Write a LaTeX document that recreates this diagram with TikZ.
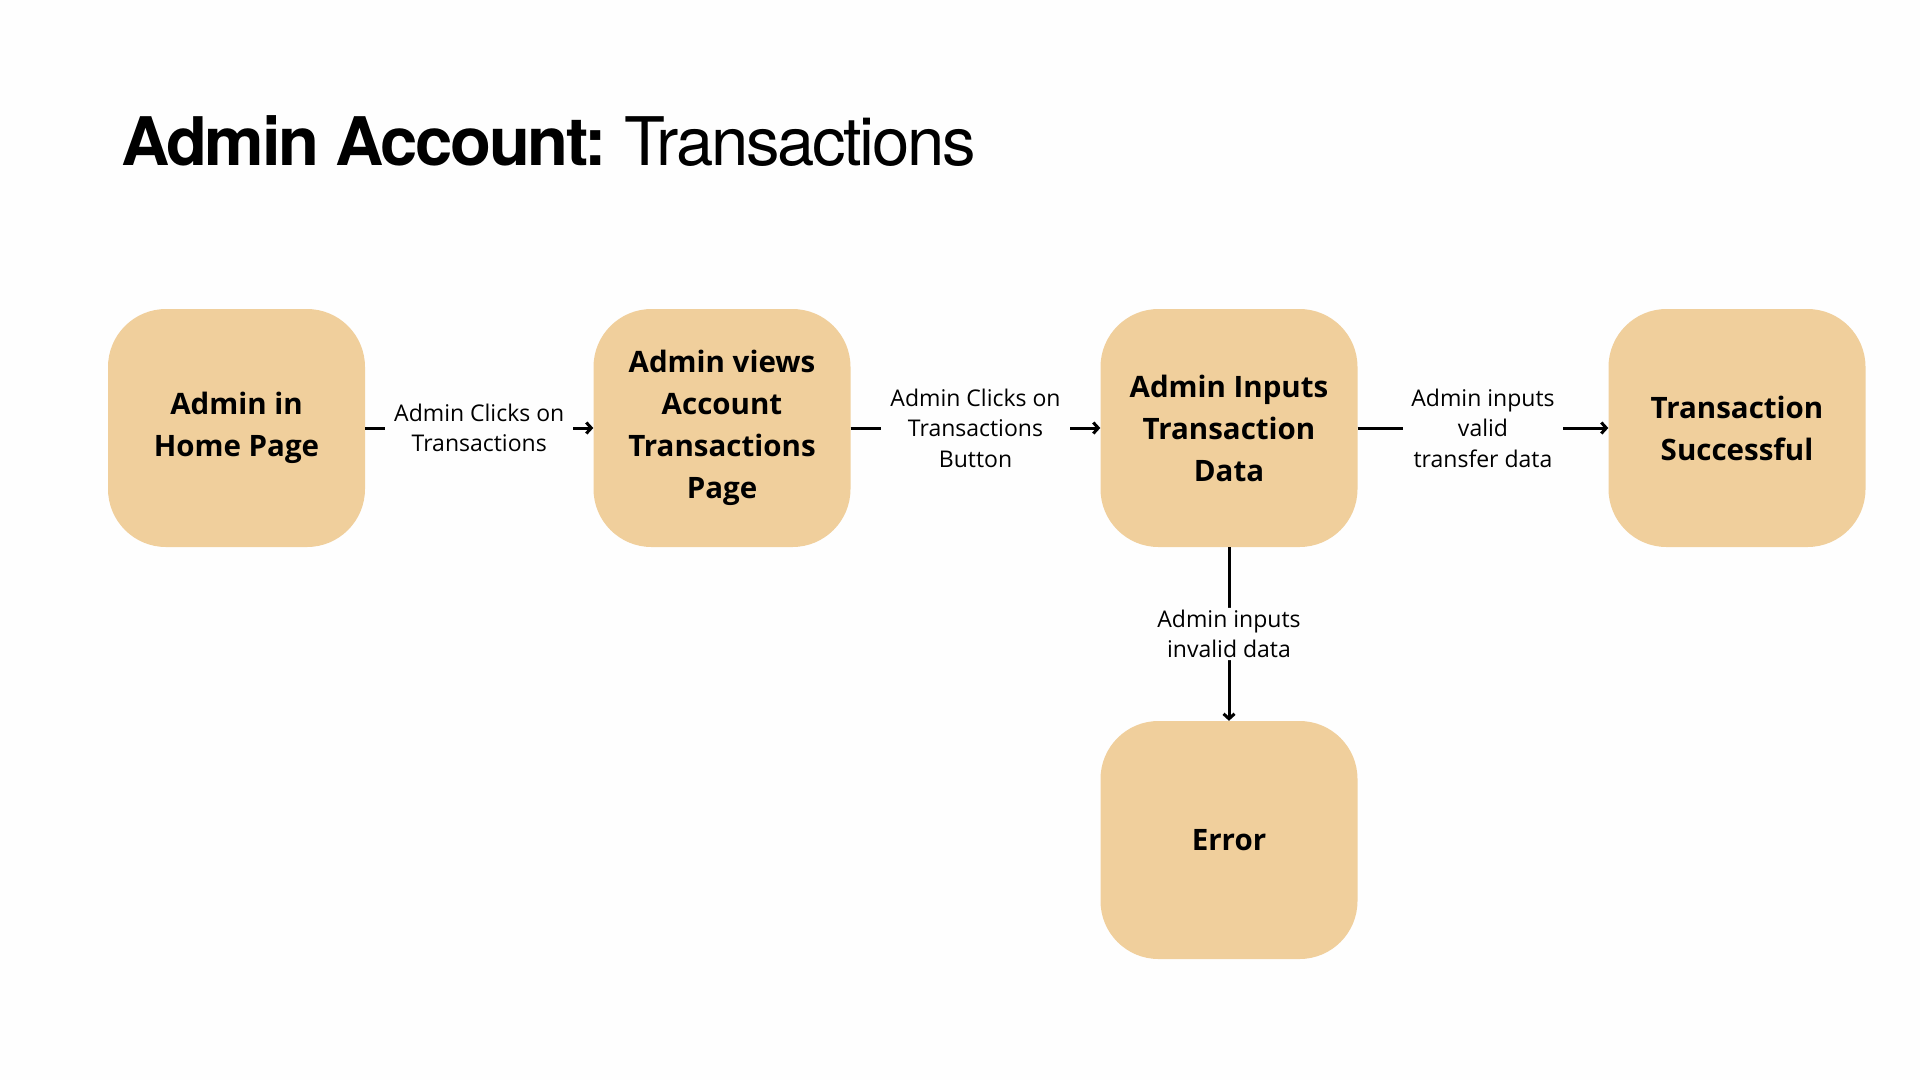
\documentclass[tikz,border=0pt]{standalone}
\usepackage{fontspec}
\setmainfont{Open Sans}
\newfontfamily\titlefont[LetterSpace=-3.5]{TeX Gyre Heros}
\usetikzlibrary{arrows.meta}
\definecolor{boxfill}{HTML}{F0CF9C}
\definecolor{bgcol}{HTML}{FEFEFE}
\tikzset{
  stepbox/.style={draw=none, fill=boxfill, rounded corners=58pt, minimum width=257pt, minimum height=238pt, align=center, font=\fontsize{29.5}{42}\selectfont\bfseries, text=black},
  lbl/.style={fill=bgcol, align=center, inner xsep=9pt, inner ysep=4pt, font=\fontsize{23}{30.5}\selectfont, text=black},
  conn/.style={line width=3pt, -{Straight Barb[length=5pt,width=11pt]}},
}
\begin{document}
\begin{tikzpicture}[x=1pt,y=-1pt]
\useasboundingbox[fill=bgcol] (0,0) rectangle (1920,1080);
\node[anchor=base west, inner sep=0pt, font=\titlefont\fontsize{67}{72}\selectfont] (title) at (121,165) {\textbf{Admin Account:}\hspace{-2pt} Transactions};

\node[stepbox] (home) at (236.5,428) {Admin in\\Home Page};
\node[stepbox] (views) at (722,428) {Admin views\\Account\\Transactions\\Page};
\node[stepbox] (inputs) at (1229,428) {Admin Inputs\\Transaction\\Data};
\node[stepbox] (success) at (1737,428) {Transaction\\Successful};
\node[stepbox] (error) at (1229,840) {Error};

\draw[conn] (home.east) -- node[lbl] (l1) {Admin Clicks on\\Transactions} (views.west);
\draw[conn] (views.east) -- node[lbl] (l2) {Admin Clicks on\\Transactions\\Button} (inputs.west);
\draw[conn] (inputs.east) -- node[lbl, inner xsep=8pt] (l3) {Admin inputs\\valid\\transfer data} (success.west);
\draw[conn] (inputs.south) -- node[lbl, rounded corners=8pt, inner ysep=2pt, inner xsep=6pt] (l4) {Admin inputs\\invalid data} (error.north);
\end{tikzpicture}
\end{document}
